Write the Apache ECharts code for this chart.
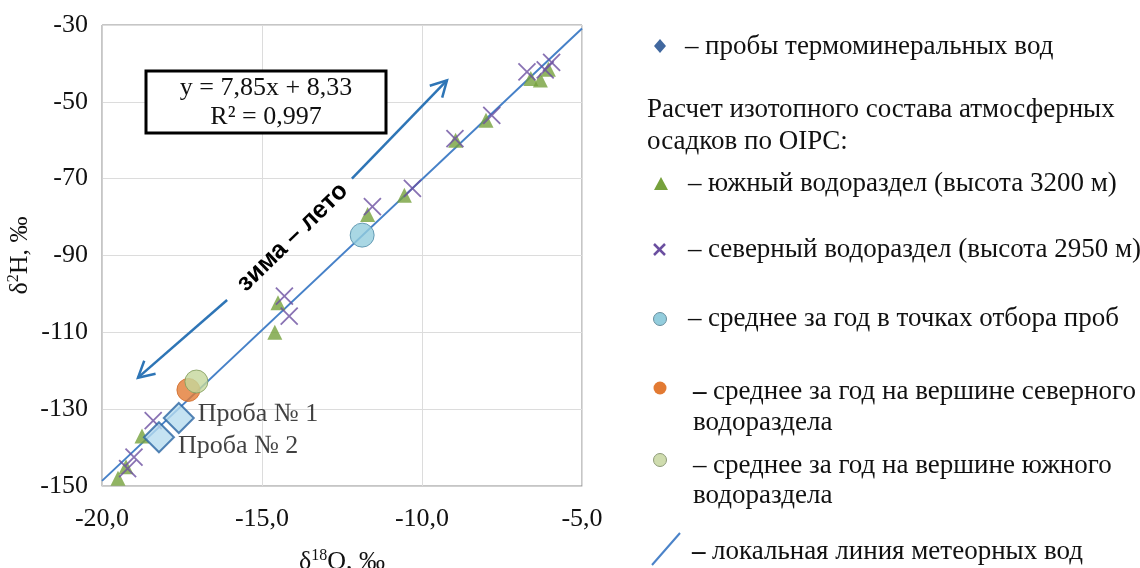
<!DOCTYPE html>
<html>
<head>
<meta charset="utf-8">
<script src="https://cdn.jsdelivr.net/npm/echarts@6/dist/echarts.min.js"></script>
<style>
html,body{margin:0;padding:0;background:#fff;}
#chart{width:1140px;height:568px;}
</style>
</head>
<body>
<div id="chart"></div>
<script>
// ---- data ----
const southWatershed = [ // ▲ южный водораздел (высота 3200 м)
  [-19.5, -148.0], [-19.25, -145.0], [-18.75, -137.0], [-14.6, -110.0], [-14.5, -102.3],
  [-11.7, -79.3], [-10.55, -74.3], [-8.95, -60.0], [-8.0, -54.8], [-6.6, -43.9],
  [-6.3, -44.3], [-6.05, -41.5]
];
const northWatershed = [ // × северный водораздел (высота 2950 м)
  [-19.2, -145.5], [-19.0, -142.5], [-18.4, -133.0], [-14.3, -100.6], [-14.15, -105.8],
  [-11.55, -77.3], [-10.3, -72.5], [-8.97, -59.6], [-7.82, -53.5], [-6.72, -42.2],
  [-6.15, -41.7], [-5.95, -39.7]
];
const meanSamplingPoints = [[-11.87, -84.7]];
const meanNorthSummit = [[-17.3, -125.0]];
const meanSouthSummit = [[-17.05, -122.8]];
const thermalSamples = [[-17.6, -132.3], [-18.22, -137.3]];
const sampleLabels = ['Проба № 1', 'Проба № 2'];
const lmwlEnds = [[-20, -148.67], [-5, -30.92]]; // local meteoric water line y = 7,85x + 8,33
const equationLines = ['y = 7,85x + 8,33', 'R² = 0,997'];
const seasonArrow = { tail: [-18.875, -121.8], gapStart: [-16.09, -101.6], gapEnd: [-12.19, -70.0], head: [-9.22, -44.4], text: 'зима – лето' };
const xAxisRange = [-20, -5, 5];
const yAxisRange = [-150, -30, 20];
const legendItems = [
  'пробы термоминеральных вод',
  'Расчет изотопного состава атмосферных',
  'осадков по OIPC:',
  'южный водораздел (высота 3200 м)',
  'северный водораздел (высота 2950 м)',
  'среднее за год в точках отбора проб',
  'среднее за год на вершине северного',
  'водораздела',
  'среднее за год на вершине южного',
  'водораздела',
  'локальная линия метеорных вод'
];

const SERIF = '"Liberation Serif", "Times New Roman", serif';
const chart = echarts.init(document.getElementById('chart'), null, {renderer: 'canvas'});

const option = {
  backgroundColor: '#fff',
  animation: false,
  grid: {left: 102, right: 558, top: 25, bottom: 82, show: true, borderColor: '#8c8c8c', borderWidth: 1,
    containLabel: false, outerBoundsMode: 'none'},
  xAxis: {
    type: 'value', min: xAxisRange[0], max: xAxisRange[1], interval: xAxisRange[2],
    axisLine: {show: true, lineStyle: {color: '#d0d0d0'}},
    axisTick: {show: false},
    splitLine: {lineStyle: {color: '#dcdcdc'}},
    axisLabel: {fontFamily: SERIF, fontSize: 26, color: '#111', margin: 20,
      formatter: v => v.toFixed(1).replace('.', ',')},
    name: 'δ{s|18}O, ‰', nameLocation: 'middle', nameGap: 62,
    nameTextStyle: {fontFamily: SERIF, fontSize: 26, color: '#111',
      rich: {s: {fontFamily: SERIF, fontSize: 16, padding: [0, 0, 12, 0], color: '#111'}}}
  },
  yAxis: {
    type: 'value', min: yAxisRange[0], max: yAxisRange[1], interval: yAxisRange[2],
    axisLine: {show: true, lineStyle: {color: '#d0d0d0'}},
    axisTick: {show: false},
    splitLine: {lineStyle: {color: '#dcdcdc'}},
    axisLabel: {fontFamily: SERIF, fontSize: 26, color: '#111', margin: 14, padding: [8, 0, 0, 0],
      formatter: v => String(v)},
    name: 'δ{s|2}H, ‰', nameLocation: 'middle', nameGap: 68,
    nameTextStyle: {fontFamily: SERIF, fontSize: 26, color: '#111',
      rich: {s: {fontFamily: SERIF, fontSize: 16, padding: [0, 0, 12, 0], color: '#111'}}}
  },
  series: [
    {type: 'line', data: lmwlEnds, symbol: 'none', z: 1, silent: true,
      lineStyle: {color: '#4681c8', width: 2}},
    {type: 'scatter', data: southWatershed, symbol: 'triangle', symbolSize: 15, z: 2,
      itemStyle: {color: '#76a13c'}},
    {type: 'scatter', data: northWatershed, symbol: 'path://M0,0 L10,10 M10,0 L0,10', symbolSize: 17, z: 3,
      itemStyle: {color: 'none', borderColor: '#6b4fa0', borderWidth: 1.8}},
    {type: 'scatter', data: meanSamplingPoints, symbol: 'circle', symbolSize: 24, z: 4,
      itemStyle: {color: '#93cddd', borderColor: '#4d8aa6', borderWidth: 1}},
    {type: 'scatter', data: meanNorthSummit, symbol: 'circle', symbolSize: 23, z: 4,
      itemStyle: {color: '#e27a33', borderColor: '#d06a28', borderWidth: 1}},
    {type: 'scatter', data: meanSouthSummit, symbol: 'circle', symbolSize: 23, z: 5,
      itemStyle: {color: '#c4d79b', borderColor: '#7f9a5a', borderWidth: 1}},
    {type: 'scatter', symbol: 'diamond', symbolSize: 30, z: 6,
      data: thermalSamples.map((v, i) => ({value: v, name: sampleLabels[i],
        label: {offset: i === 0 ? [0, -4] : [0, 9]}})),
      itemStyle: {color: '#b7dcef', borderColor: '#2b65a3', borderWidth: 2},
      label: {show: true, position: 'right', distance: 3, formatter: p => p.name,
        fontFamily: SERIF, fontSize: 26, color: '#111'}}
  ],
  graphic: []
};
chart.setOption(option);

function px(pt) { return chart.convertToPixel({gridIndex: 0}, pt); }

function buildGraphics() {
  const g = [];
  const arrowColor = '#2e75b6';
  const tail = px(seasonArrow.tail), gs = px(seasonArrow.gapStart), ge = px(seasonArrow.gapEnd), head = px(seasonArrow.head);
  g.push({type: 'line', shape: {x1: tail[0], y1: tail[1], x2: gs[0], y2: gs[1]}, style: {stroke: arrowColor, lineWidth: 2.5}, z: 10});
  g.push({type: 'line', shape: {x1: ge[0], y1: ge[1], x2: head[0], y2: head[1]}, style: {stroke: arrowColor, lineWidth: 2.5}, z: 10});
  function headAt(tip, from) {
    const dx = tip[0] - from[0], dy = tip[1] - from[1];
    const len = Math.hypot(dx, dy), ux = dx / len, uy = dy / len;
    const L = 18, a = 0.5;
    const c = Math.cos(a), s = Math.sin(a);
    const b1 = [tip[0] - L * (ux * c - uy * s), tip[1] - L * (uy * c + ux * s)];
    const b2 = [tip[0] - L * (ux * c + uy * s), tip[1] - L * (uy * c - ux * s)];
    g.push({type: 'polyline', shape: {points: [b1, tip, b2]}, style: {stroke: arrowColor, lineWidth: 2.5, fill: null}, z: 10});
  }
  headAt(head, ge);
  headAt(tail, gs);
  const mid = [(gs[0] + ge[0]) / 2 + 3, (gs[1] + ge[1]) / 2 - 2];
  const ang = Math.atan2(-(ge[1] - gs[1]), ge[0] - gs[0]);
  g.push({type: 'text', x: mid[0], y: mid[1], rotation: ang, z: 11,
    style: {text: seasonArrow.text, font: 'bold 25px "Liberation Sans", Arial, sans-serif', fill: '#000',
      textAlign: 'center', textVerticalAlign: 'middle'}});

  // equation box
  g.push({type: 'rect', shape: {x: 146, y: 71, width: 240, height: 62}, style: {fill: '#fff', stroke: '#000', lineWidth: 3}, z: 12});
  g.push({type: 'text', x: 266, y: 88, z: 13, style: {text: equationLines[0], font: '26px ' + SERIF, fill: '#111', textAlign: 'center', textVerticalAlign: 'middle'}});
  g.push({type: 'text', x: 266, y: 117, z: 13, style: {text: equationLines[1], font: '26px ' + SERIF, fill: '#111', textAlign: 'center', textVerticalAlign: 'middle'}});

  // legend
  const lf = '27px ' + SERIF;
  const txt = (x, y, t) => g.push({type: 'text', x, y, z: 13,
    style: {text: t, font: lf, fill: '#111', textAlign: 'left', textVerticalAlign: 'middle'}});
  const dash = (x, y, bold) => g.push({type: 'text', x, y, z: 13,
    style: {text: '–', font: (bold ? 'bold ' : '') + lf, fill: '#111', textAlign: 'left', textVerticalAlign: 'middle'}});
  g.push({type: 'polygon', shape: {points: [[660, 39], [666, 46], [660, 53], [654, 46]]}, style: {fill: '#41689f'}, z: 13});
  dash(685, 47); txt(705, 47, legendItems[0]);
  txt(647, 110, legendItems[1]);
  txt(647, 142, legendItems[2]);
  g.push({type: 'polygon', shape: {points: [[661, 177], [668, 190], [654, 190]]}, style: {fill: '#76a13c'}, z: 13});
  dash(688, 184); txt(708, 184, legendItems[3]);
  g.push({type: 'polyline', shape: {points: [[654, 244], [665, 255]]}, style: {stroke: '#6b4fa0', lineWidth: 2.5}, z: 13});
  g.push({type: 'polyline', shape: {points: [[665, 244], [654, 255]]}, style: {stroke: '#6b4fa0', lineWidth: 2.5}, z: 13});
  dash(688, 250); txt(708, 250, legendItems[4]);
  g.push({type: 'circle', shape: {cx: 660, cy: 319, r: 6.5}, style: {fill: '#93cddd', stroke: '#6a8f9e', lineWidth: 1}, z: 13});
  dash(688, 319); txt(708, 319, legendItems[5]);
  g.push({type: 'circle', shape: {cx: 660, cy: 388, r: 6.5}, style: {fill: '#e27a33'}, z: 13});
  dash(693, 392, true); txt(713, 392, legendItems[6]);
  txt(693, 423, legendItems[7]);
  g.push({type: 'circle', shape: {cx: 660, cy: 460, r: 6.5}, style: {fill: '#cfdcae', stroke: '#8f9c7a', lineWidth: 1}, z: 13});
  dash(693, 466); txt(713, 466, legendItems[8]);
  txt(693, 496, legendItems[9]);
  g.push({type: 'line', shape: {x1: 652, y1: 565, x2: 680, y2: 533}, style: {stroke: '#4b83c9', lineWidth: 2}, z: 13});
  dash(692, 552, true); txt(712, 552, legendItems[10]);
  return g;
}
chart.setOption({graphic: buildGraphics()});
</script>
</body>
</html>
